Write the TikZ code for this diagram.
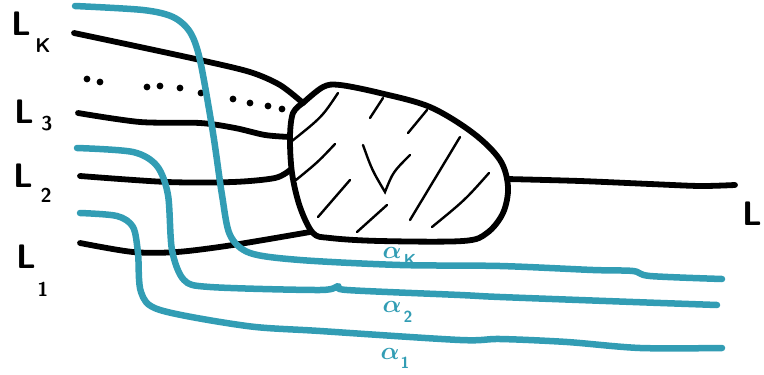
\documentclass[tikz,border=0pt]{standalone}
\definecolor{tealink}{RGB}{50,157,180}
\begin{document}
\begin{tikzpicture}[x=1pt,y=-1pt,
  blk/.style={line width=5.8pt,line cap=round,line join=round},
  tl/.style={tealink,line width=6.5pt,line cap=round,line join=round},
  hatch/.style={line width=2.4pt,line cap=round},
  lbl/.style={font=\sffamily\bfseries\fontsize{34}{34}\selectfont,inner sep=0pt},
  sub/.style={font=\sffamily\bfseries\fontsize{20}{20}\selectfont,inner sep=0pt},
  alab/.style={tealink,font=\boldmath\fontsize{26}{26}\selectfont,inner sep=0pt},
  asub/.style={tealink,font=\sffamily\bfseries\fontsize{16}{16}\selectfont,inner sep=0pt}]
\useasboundingbox (0,0) rectangle (764,375);
% black strands
\draw[blk] plot[smooth,tension=0.5] coordinates {(74,33)(140,47)(200,60)(250,72)(280,85)(303,103)};
\draw[blk] plot[smooth,tension=0.5] coordinates {(78,113)(140,122)(200,123)(235,128)(265,135)(290,137)};
\draw[blk] plot[smooth,tension=0.5] coordinates {(80,176)(167,182)(233,182)(275,178)(290,170)};
\draw[blk] plot[smooth,tension=0.5] coordinates {(80,243)(133,252)(177,252)(233,245)(310,232)};
\draw[blk] plot[smooth,tension=0.5] coordinates {(507,179)(580,181)(650,184)(700,186)(735,185)};
% blob
\draw[blk] plot[smooth,tension=0.55] coordinates {(303,103)(323,87)(340,85)(380,93)(430,107)(473,133)(500,160)(508,187)(503,213)(487,233)(463,241)(380,241)(330,238)(313,233)(300,207)(292,173)(290,137)(293,113)(303,103)};
% hatching
\draw[hatch] (338,93) .. controls (322,117) .. (292,141);
\draw[hatch] (335,144) .. controls (318,162) .. (296,180);
\draw[hatch] (383,98) -- (370,118);
\draw[hatch] (427,110) -- (408,133);
\draw[hatch] (363,145) .. controls (372,170) .. (385,192) .. controls (393,172) .. (410,155);
\draw[hatch] (350,180) -- (318,217);
\draw[hatch] (387,205) -- (357,232);
\draw[hatch] (460,137) -- (410,220);
\draw[hatch] (489,173) .. controls (465,200) .. (432,227);
% dots
\foreach \p in {(87,79),(100,82),(147,87),(160,86),(180,88),(201,93),(233,99),(250,103),(268,106),(282,109)}
  \fill \p circle (3.4pt);
% teal curves
\draw[tl] plot[smooth,tension=0.5] coordinates {(75,6)(143,10)(173,17)(190,32)(200,60)(213,133)(222,195)(230,235)(250,253)(300,260)(400,265)(500,266)(593,270)(633,271)(650,276)(722,279)};
\draw[tl] plot[smooth,tension=0.5] coordinates {(77,148)(133,152)(157,166)(168,195)(172,250)(184,280)(210,287)(320,290)(338,286)(347,290)(460,295)(500,297)(633,302)(717,305)};
\draw[tl] plot[smooth,tension=0.5] coordinates {(80,213)(117,216)(133,227)(138,253)(141,292)(160,310)(247,326)(320,331)(460,340)(500,339)(567,342)(640,348)(722,348)};
% labels
\node[lbl] (Lk) at (21,24) {L};
\node[sub] (Lks) at (43,46) {K};
\node[lbl] (L3) at (24,112) {L};
\node[sub] (L3s) at (47,124) {3};
\node[lbl] (L2) at (23,176) {L};
\node[sub] (L2s) at (46,195) {2};
\node[lbl] (L1) at (26,257) {L};
\node[sub] (L1s) at (43,289) {1};
\node[lbl] (L) at (752,214) {L};
\node[alab] (ak) at (392,253) {$\alpha$};
\node[asub] (aks) at (410,260) {K};
\node[alab] (a2) at (392,307) {$\alpha$};
\node[asub] (a2s) at (408,317) {2};
\node[alab] (a1) at (390,354) {$\alpha$};
\node[asub] (a1s) at (405,363) {1};
\end{tikzpicture}
\end{document}
